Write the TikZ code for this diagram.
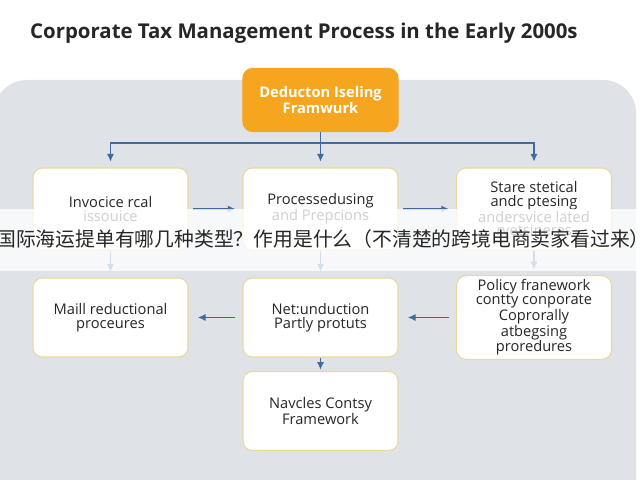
\documentclass[tikz,border=0pt]{standalone}
\usepackage{fontspec}
\setmainfont{Open Sans}
\newfontfamily\cjkfont{Noto Sans CJK SC}
\usepackage{tikz}
\usetikzlibrary{positioning,arrows.meta}
\definecolor{bg-gray}{RGB}{223,227,232}
\definecolor{box-edge}{RGB}{234,216,150}
\definecolor{deep-orange}{RGB}{246,166,30}
\definecolor{arrow-blue}{RGB}{62,106,160}
\definecolor{ink}{RGB}{38,38,38}

\begin{document}
\begin{tikzpicture}
[
  x=0.03cm, y=-0.03cm,
  box/.style={rectangle,rounded corners=8pt,draw=box-edge,line width=0.9pt,fill=white,minimum width=4.65cm,align=center,text=ink,font=\fontsize{12.5}{11.6}\selectfont},
  topbox/.style={box,draw=deep-orange,fill=deep-orange,text=white,minimum height=1.89cm,font=\bfseries\fontsize{12.5}{13}\selectfont},
  rowa/.style={box,minimum height=2.46cm},
  rowb/.style={box,minimum height=2.37cm},
  link/.style={draw=arrow-blue,line width=1.1pt},
  arr/.style={link,-{Latex[length=6.5pt,width=6pt]}},
]
\useasboundingbox (0,0) rectangle (640,480);
\clip (0,0) rectangle (640,480);
\fill[white] (0,0) rectangle (640,480);
\fill[bg-gray,rounded corners=28] (-6,80) rectangle (636,520);

\node[font=\bfseries\fontsize{17.4}{20}\selectfont,text=ink,anchor=west,inner sep=0] (title) at (30,33) {Corporate Tax Management Process in the Early 2000s};

\node[topbox] (deduct) at (320.5,100) {Deducton Iseling\\Framwurk};

\node[rowa] (invoice) at (110.5,209) {Invocice rcal\\issouice};
\node[rowa] (process) at (320.5,209) {Processedusing\\and Prepcions};
\node[rowa] (stare) at (534,209) {Stare stetical\\andc ptesing\\andersvice lated\\rvetsineres};

\node[rowb] (maill) at (110.5,317.5) {Maill reductional\\proceures};
\node[rowb] (net) at (320.5,317.5) {Net:unduction\\Partly protuts};
\node[rowb] (policy) at (534,317.5) {Policy franework\\contty conporate\\Coprorally\\atbegsing\\proredures};

\node[rowb] (navc) at (320.5,411) {Navcles Contsy\\Framework};

\coordinate (fork) at (320.5,143);
\draw[link] (deduct.south) -- (fork);
\draw[arr,shorten >=5pt] (fork) -| (invoice.north);
\draw[arr,shorten >=5pt] (fork) -- (process.north);
\draw[arr,shorten >=5pt] (fork) -| (stare.north);

\draw[arr,shorten <=4pt,shorten >=6pt] (invoice.east) -- (process.west);
\draw[arr,shorten <=4pt,shorten >=6pt] (process.east) -- (stare.west);

\draw[arr,shorten >=5pt] (invoice.south) -- (maill.north);
\draw[arr,shorten >=5pt] (process.south) -- (net.north);
\draw[arr,shorten >=5pt] (stare.south) -- (policy.north);

\draw[arr,shorten <=6pt,shorten >=8pt] (net.west) -- (maill.east);
\draw[arr,shorten <=6pt,shorten >=8pt] (policy.west) -- (net.east);
\draw[arr,shorten >=1pt] (net.south) -- (navc.north);

\fill[white,opacity=0.78] (0,209) rectangle (640,271);
\node[font=\cjkfont\fontsize{16.9}{18}\selectfont,text=ink,anchor=west,inner sep=0] (banner) at (-4,239) {国际海运提单有哪几种类型？作用是什么（不清楚的跨境电商卖家看过来）};
\end{tikzpicture}
\end{document}
